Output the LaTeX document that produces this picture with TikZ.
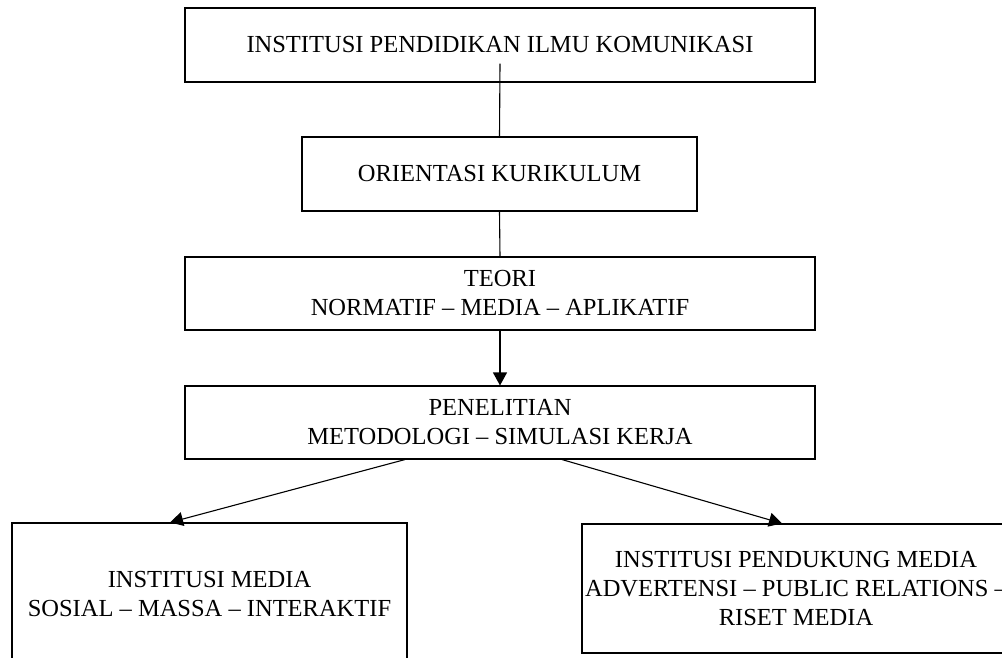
\documentclass[tikz,border=0pt]{standalone}
\usepackage{fontspec}
\setmainfont{Liberation Serif}
\usepackage{tikz}
\usetikzlibrary{arrows.meta}

\begin{document}
\begin{tikzpicture}[x=1pt,y=-1pt,line width=1.1pt,
  >={Triangle[length=13pt,width=14pt]},
  box/.style={draw,inner sep=0pt,align=center,
    font=\fontsize{24.5}{29}\selectfont}]
  \useasboundingbox (0,0) rectangle (1002,657);
  \clip (0,0) rectangle (1002,657);
  \node[box,minimum width=630pt,minimum height=74pt](top)at(500,45)
  {INSTITUSI PENDIDIKAN ILMU KOMUNIKASI};
  \node[box,minimum width=395pt,minimum height=74pt](orient)at(499.5,174)
  {ORIENTASI KURIKULUM};
  \node[box,minimum width=630pt,minimum height=73pt](teori)at(500,293.5)
  {TEORI\\NORMATIF -- MEDIA -- APLIKATIF};
  \node[box,minimum width=630pt,minimum height=73pt](pen)at(500,422.5)
  {PENELITIAN\\METODOLOGI -- SIMULASI KERJA};
  \node[box,minimum width=395pt,minimum height=142pt](media)at(209.5,594)
  {INSTITUSI MEDIA\\SOSIAL -- MASSA -- INTERAKTIF};
  \node[box,minimum width=428pt,minimum height=129pt](dukung)at(796,588.5)
  {INSTITUSI PENDUKUNG MEDIA\\ADVERTENSI -- PUBLIC RELATIONS --\\RISET MEDIA};
  \draw([yshift=19pt]top.south)--(orient.north);
  \draw(orient.south)--(teori.north);
  \draw[->](teori.south)--(pen.north);
  \draw[->]([xshift=-95pt]pen.south)--([xshift=-39.5pt]media.north);
  \draw[->]([xshift=62pt]pen.south)--([xshift=-14pt]dukung.north);
\end{tikzpicture}
\end{document}
